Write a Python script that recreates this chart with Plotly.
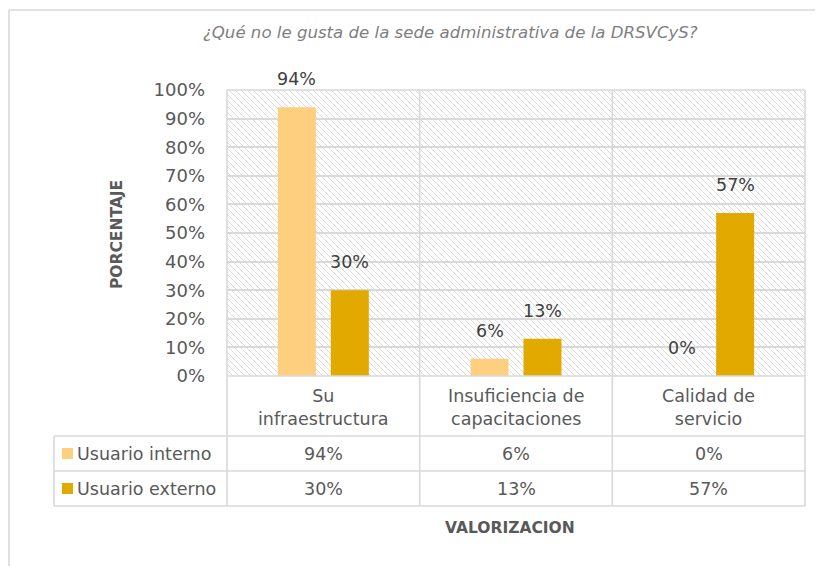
import plotly.graph_objects as go

# ---------------- data ----------------
categories = ["Su infraestructura", "Insuficiencia de capacitaciones", "Calidad de servicio"]
category_labels = ["Su<br>infraestructura", "Insuficiencia de<br>capacitaciones", "Calidad de<br>servicio"]
series_names = ["Usuario interno", "Usuario externo"]
usuario_interno = [94, 6, 0]
usuario_externo = [30, 13, 57]
y_ticks = [0, 10, 20, 30, 40, 50, 60, 70, 80, 90, 100]
title_text = "¿Qué no le gusta de la sede administrativa de la DRSVCyS?"
x_title = "VALORIZACION"
y_title = "PORCENTAJE"

# ---------------- style ----------------
OFF = 8                                   # page body margin
W_FIG, H_FIG = 823 - OFF, 566 - OFF
PL, PR, PT, PB = 227, 805, 90, 376        # plot-area box in screen pixels
PW, PH = PR - PL, PB - PT
colors = ["#FFCF80", "#E2A900"]
grid = "#D9D9D9"
FONT = "DejaVu Sans"
txt = "#595959"
FS = 17.5

def px(x):
    return (x - PL) / PW

def py(y):
    return (PB - y) / PH

fig = go.Figure()
series = [usuario_interno, usuario_externo]
for name, vals, col in zip(series_names, series, colors):
    fig.add_trace(go.Bar(x=categories, y=vals, name=name, marker=dict(color=col, line=dict(width=0)),
                         showlegend=False, hoverinfo="x+y"))

shapes = []
# hatch background of plot area (decorative)
step = 6
parts = []
c = -PH
while c < PW:
    x0 = max(0, c)
    x1 = min(PW, c + PH)
    if x1 > x0:
        y0 = x0 - c
        y1 = x1 - c
        parts.append(f"M{x0/PW:.5f},{1 - y0/PH:.5f} L{x1/PW:.5f},{1 - y1/PH:.5f}")
    c += step
shapes.append(dict(type="path", xref="paper", yref="paper", path=" ".join(parts),
                   line=dict(color="#DCDCDC", width=1), layer="below"))

def hline(y, x0, x1, layer="above"):
    shapes.append(dict(type="line", xref="paper", yref="paper", x0=px(x0), x1=px(x1), y0=py(y), y1=py(y),
                       line=dict(color=grid, width=1.6), layer=layer))

def vline(x, y0, y1, layer="above"):
    shapes.append(dict(type="line", xref="paper", yref="paper", x0=px(x), x1=px(x), y0=py(y0), y1=py(y1),
                       line=dict(color=grid, width=1.6), layer=layer))

# outer chart border (left & top)
vline(9, 10, 570)
hline(10, 9, 830)
# plot frame and table grid
hline(PT, PL, PR)
hline(PB, PL, PR)
col_edges = [PL + PW * k / len(categories) for k in range(len(categories) + 1)]
for xe in col_edges:
    vline(xe, PT, 506)
row_lines = [436, 471, 506]
for yr in row_lines:
    hline(yr, 54, PR)
vline(54, 436, 506)

annotations = []
# data labels above bars
offsets = [-26.5, 26.5]
for vals, off in zip(series, offsets):
    for cat, v in zip(categories, vals):
        annotations.append(dict(x=cat, y=v, xref="x", yref="y", text=f"{v}%", showarrow=False,
                                xshift=off, yshift=28, yanchor="middle",
                                font=dict(family=FONT, size=FS, color="#404040")))

# category labels in table header row
col_centers = [(col_edges[k] + col_edges[k + 1]) / 2 for k in range(len(categories))]
for xc, lab in zip(col_centers, category_labels):
    annotations.append(dict(x=px(xc), y=py(407), xref="paper", yref="paper", text=lab, showarrow=False,
                            xanchor="center", yanchor="middle",
                            font=dict(family=FONT, size=FS, color=txt)))

# table rows: legend keys, names, values
row_centers = [453.5, 488.5]
for name, vals, col, yc in zip(series_names, series, colors, row_centers):
    shapes.append(dict(type="rect", xref="paper", yref="paper", x0=px(62), x1=px(73),
                       y0=py(yc - 5.5), y1=py(yc + 5.5), fillcolor=col, line=dict(width=0)))
    annotations.append(dict(x=px(75), y=py(yc), xref="paper", yref="paper", text=name, showarrow=False,
                            xanchor="left", yanchor="middle",
                            font=dict(family=FONT, size=FS, color=txt)))
    for xc, v in zip(col_centers, vals):
        annotations.append(dict(x=px(xc), y=py(yc), xref="paper", yref="paper", text=f"{v}%",
                                showarrow=False, xanchor="center", yanchor="middle",
                                font=dict(family=FONT, size=FS, color=txt)))

# titles
annotations.append(dict(x=px(450), y=py(32), xref="paper", yref="paper", text=f"<i>{title_text}</i>",
                        showarrow=False, xanchor="center", yanchor="middle",
                        font=dict(family=FONT, size=16.6, color="#7F7F7F")))
annotations.append(dict(x=px(510), y=py(528), xref="paper", yref="paper", text=f"<b>{x_title}</b>",
                        showarrow=False, xanchor="center", yanchor="middle",
                        font=dict(family=FONT, size=15.5, color=txt)))
annotations.append(dict(x=px(117), y=py(235), xref="paper", yref="paper", text=f"<b>{y_title}</b>",
                        showarrow=False, xanchor="center", yanchor="middle", textangle=-90,
                        font=dict(family=FONT, size=15.5, color=txt)))

fig.update_layout(
    width=W_FIG, height=H_FIG,
    margin=dict(l=PL - OFF, r=W_FIG - (PR - OFF), t=PT - OFF, b=H_FIG - (PB - OFF), pad=0),
    paper_bgcolor="white", plot_bgcolor="rgba(0,0,0,0)",
    barmode="group", bargap=0.45, bargroupgap=0.283,
    shapes=shapes, annotations=annotations,
    font=dict(family=FONT, color=txt),
    xaxis=dict(type="category", range=[-0.5, len(categories) - 0.5], showgrid=False,
               showticklabels=False, showline=False, zeroline=False, ticks=""),
    yaxis=dict(range=[0, 100], tickvals=y_ticks, ticktext=[f"{t}%" for t in y_ticks],
               showgrid=True, gridcolor=grid, gridwidth=1.6, zeroline=False, showline=False,
               ticks="", ticklabelstandoff=21, tickfont=dict(family=FONT, size=18, color=txt)),
)

fig.write_html("out.html")
